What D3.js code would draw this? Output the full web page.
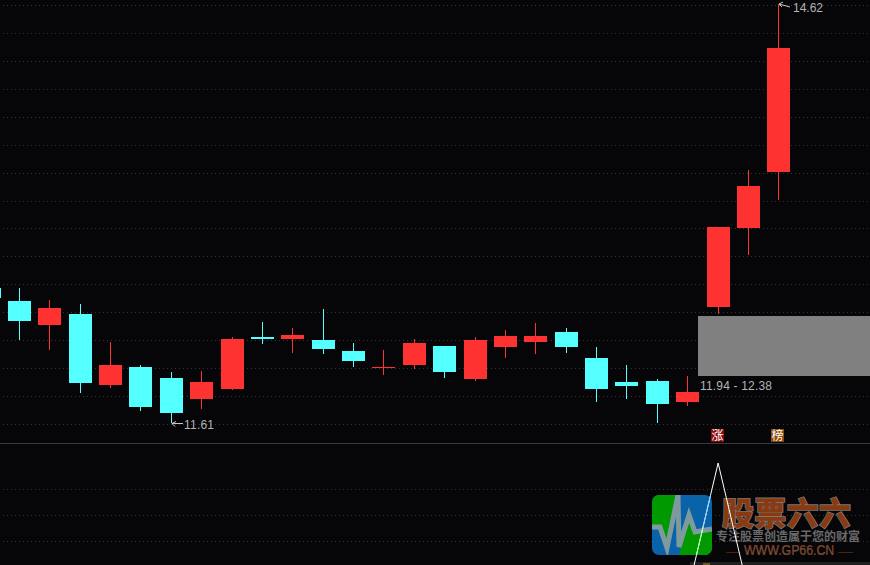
<!DOCTYPE html>
<html><head><meta charset="utf-8">
<script src="https://cdn.jsdelivr.net/npm/d3@7"></script>
<style>html,body{margin:0;padding:0;background:#060609;overflow:hidden}svg{display:block}</style>
</head><body><svg id="c" width="870" height="565"></svg>
<script>
const sessions=[0,1,2,3,4,5,6,7,8,9,10,11,12,13,14,15,16,17,18,19,20,21,22,23,24,25,26];
const opens =[12.58,12.486,12.314,12.393,11.883,12.012,11.933,11.782,11.854,12.228,12.213,12.206,12.127,12.005,12.027,12.163,11.926,12.156,12.192,12.264,12.077,11.904,11.912,11.761,12.44,13.01,13.413];
const closes=[12.51,12.343,12.436,11.897,12.027,11.725,11.682,11.904,12.213,12.213,12.242,12.142,12.055,12.012,12.185,11.976,12.206,12.235,12.235,12.156,11.854,11.876,11.746,11.833,13.02,13.31,14.304];
const highs =[12.58,12.58,12.494,12.465,12.192,12.027,11.976,11.983,12.228,12.335,12.292,12.429,12.185,12.134,12.213,12.163,12.228,12.278,12.328,12.292,12.156,12.027,11.926,11.948,13.02,13.43,14.62];
const lows  =[12.51,12.206,12.134,11.825,11.861,11.696,11.61,11.71,11.847,12.177,12.113,12.106,12.012,11.955,11.998,11.933,11.912,12.077,12.106,12.113,11.761,11.782,11.61,11.732,12.39,12.82,13.212];
const indicatorSessions=[23,24,25];
const indicatorValues=[0,100,0];
const bandLow=11.94, bandHigh=12.38;
const gridRows=d3.range(16), lowerRows=[1,2,3];
const labels=["14.62","11.61","11.94 - 12.38"];
const tags=["涨","榜"];
const C={bg:"#060609",up:"#ff3232",down:"#54ffff",grid:"#343434",text:"#b4b4b4",sep:"#3a3a3a",brown:"#8a3a10"};

const svg=d3.select("#c");
svg.append("rect").attr("width",870).attr("height",565).attr("fill",C.bg);
const x=d3.scaleLinear().domain([1,26]).range([19.39,778.89]);
const y=d3.scaleLinear().domain([11.61,14.62]).range([423,4]);
const gy=d3.scaleLinear().domain([0,15]).range([5,424]);
const ly=d3.scaleLinear().domain([1,3]).range([489,541]);
const iy=d3.scaleLinear().domain([0,100]).range([592,463]);
const px=v=>Math.round(v);

// grid
const dotted=(g,ys)=>g.selectAll("line").data(ys).join("line")
 .attr("x1",3).attr("x2",870).attr("y1",d=>px(d)+.5).attr("y2",d=>px(d)+.5)
 .attr("stroke",C.grid).attr("stroke-dasharray","1 3");
dotted(svg.append("g"),gridRows.map(gy));
dotted(svg.append("g"),lowerRows.map(ly));
svg.append("line").attr("x1",0).attr("x2",870).attr("y1",443.5).attr("y2",443.5).attr("stroke",C.sep);

// candles
const data=sessions.map((s,i)=>({s,o:opens[i],c:closes[i],h:highs[i],l:lows[i]}));
const g=svg.append("g");
const color=d=>d.c>=d.o?C.up:C.down;
g.selectAll("line").data(data).join("line")
 .attr("x1",d=>Math.floor(x(d.s))+.5).attr("x2",d=>Math.floor(x(d.s))+.5)
 .attr("y1",d=>px(y(d.h))).attr("y2",d=>px(y(d.l))).attr("stroke",color);
g.selectAll("rect").data(data).join("rect")
 .attr("x",d=>Math.floor(x(d.s))-11).attr("width",23)
 .attr("y",d=>px(y(Math.max(d.o,d.c))))
 .attr("height",d=>Math.max(1,px(y(Math.min(d.o,d.c)))-px(y(Math.max(d.o,d.c)))))
 .attr("fill",color);

// band
svg.append("rect").attr("x",698).attr("width",172).attr("y",px(y(bandHigh))).attr("height",Math.floor(y(bandLow))-1-px(y(bandHigh))).attr("fill","#808080");

const txt=(s,xx,yy,o={})=>svg.append("text").text(s).attr("x",xx).attr("y",yy)
 .attr("font-family",o.f||"'Liberation Sans',sans-serif").attr("font-size",o.z||12)
 .attr("fill",o.c||C.text).attr("font-weight",o.w||null).attr("text-anchor",o.a||"start")
 .attr("letter-spacing",o.ls||null);
txt(labels[0],793,12,{}).attr("textLength",30);
txt(labels[1],184,429,{}).attr("textLength",30);
txt(labels[2],700,390,{}).attr("textLength",72);
const arrow=(xx,yy,x2,y2)=>{
 svg.append("path").attr("d",`M${xx},${yy}L${x2},${y2}M${xx},${yy}l4,-2M${xx},${yy}l3,3`).attr("fill","none").attr("stroke","#c8c8c8");
};
arrow(779,4,790,7);
arrow(172,423.5,183,423.5);

// tags
[[711,"#8a0a0a"],[771,"#8a4a0a"]].forEach((t,i)=>{
 svg.append("rect").attr("x",t[0]).attr("y",429).attr("width",13).attr("height",13).attr("fill",t[1]);
 txt(tags[i],t[0]+6.5,440,{z:12,c:"#fff",a:"middle",f:"'Noto Sans CJK SC'"});
});

// bottom strip
svg.append("rect").attr("x",690).attr("y",562).attr("width",180).attr("height",3).attr("fill","#1f1f1f");
svg.append("rect").attr("x",703).attr("y",563).attr("width",7).attr("height",2).attr("fill","#6a5a20");

// watermark logo
const logo=svg.append("g");
logo.append("clipPath").attr("id","lc").append("rect").attr("x",652).attr("y",495).attr("width",60).attr("height",60).attr("rx",7);
const l=logo.append("g").attr("clip-path","url(#lc)");
l.append("rect").attr("x",652).attr("y",495).attr("width",60).attr("height",60).attr("fill","#0a62a8");
l.append("path").attr("d","M652,495H678L667,548L660,527H652Z").attr("fill","#009a00");
l.append("path").attr("d","M679,555L689,515L695,532L712,529V555Z").attr("fill","#009a00");
l.append("path").attr("d","M652,527H660L667,548L678,495L679,547L689,515L695,532L712,529").attr("fill","none").attr("stroke","#7f9a9f").attr("stroke-width",5);
txt("股票六六",722,525,{z:32,c:C.brown,w:900,f:"'Noto Sans CJK SC'"}).attr("stroke","#777").attr("stroke-width",1.6).attr("paint-order","stroke").attr("textLength",129);
txt("专注股票创造属于您的财富",716,541,{z:12,c:"#6a6a6a",w:700,f:"'Noto Sans CJK SC'"}).attr("textLength",144);
txt("WWW.GP66.CN",0,0,{z:14,c:C.brown}).attr("transform","translate(744,555) scale(.88,1)").attr("stroke","#777").attr("stroke-width",.25);
txt("——",726,554,{z:7,c:C.brown}).attr("textLength",14);
txt("——",838,554,{z:7.5,c:C.brown}).attr("textLength",15);

// indicator, tinted where it crosses the watermark
const defs=svg.append("defs");
defs.append("clipPath").attr("id","tb").append("rect").attr("x",652).attr("y",495).attr("width",60).attr("height",32);
defs.append("clipPath").attr("id","tg").append("rect").attr("x",652).attr("y",527).attr("width",60).attr("height",28);
const linePts=indicatorSessions.map((s,i)=>[x(s),iy(indicatorValues[i])]);
const drawLine=(stroke,clip)=>{const p=svg.append("path").datum(linePts).attr("d",d3.line()).attr("fill","none").attr("stroke",stroke);if(clip)p.attr("clip-path",`url(#${clip})`);};
drawLine("#fff");
drawLine("#8fd8ff","tb");
drawLine("#b4ffb4","tg");
</script></body></html>
